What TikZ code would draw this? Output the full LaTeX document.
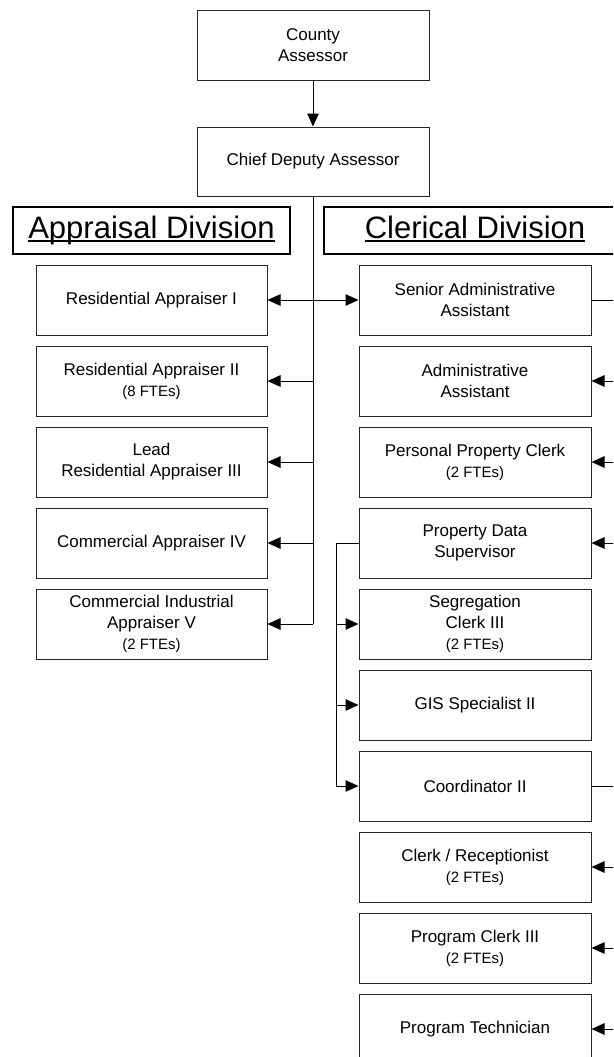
\documentclass[tikz,border=0pt]{standalone}
\usepackage{fontspec}
\setmainfont{Liberation Sans}
\usetikzlibrary{arrows.meta}
\newcommand\myul[1]{\setbox0\hbox{#1}\rlap{\rule[-3pt]{\wd0}{1.6pt}}\box0}
\newcommand\fte[1]{{\fontsize{15}{19}\selectfont #1}}
\begin{document}
\begin{tikzpicture}[x=1pt,y=-1pt,
  box/.style={draw=black!85, line width=1pt, minimum width=232pt, minimum height=70pt,
    align=center, inner sep=0pt, font=\fontsize{17}{21}\selectfont},
  hdr/.style={draw=black, line width=2pt, minimum height=47pt, inner sep=0pt,
    text height=23pt, text depth=7pt, font=\fontsize{31}{36}\selectfont},
  arr/.style={-{Triangle[length=13pt,width=11.5pt]}, line width=1pt},
  ln/.style={line width=1pt}]
\useasboundingbox (0,0) rectangle (613,1057);
\clip (0,0) rectangle (613,1057);
% top
\node[box, minimum height=69pt] (county) at (313,45.5) {County\\Assessor};
\node[box, minimum height=69pt] (chief) at (313,161.5) {Chief Deputy Assessor};
\draw[arr] (county) -- (chief);
% headers
\node[hdr, minimum width=277pt] (apphdr) at (151.5,230.5) {\myul{Appraisal Division}};
\node[hdr, minimum width=302pt] (clerhdr) at (475,230.5) {\myul{Clerical Division}};
% left column
\node[box, minimum width=231pt] (res1) at (151.5,300) {Residential Appraiser I};
\node[box, minimum width=231pt] (res2) at (151.5,381) {Residential Appraiser II\\\fte{(8 FTEs)}};
\node[box, minimum width=231pt] (lead) at (151.5,462) {Lead\\Residential Appraiser III};
\node[box, minimum width=231pt] (com4) at (151.5,543) {Commercial Appraiser IV};
\node[box, minimum width=231pt] (com5) at (151.5,624) {Commercial Industrial\\Appraiser V\\\fte{(2 FTEs)}};
% right column
\node[box] (senior) at (475,300) {Senior Administrative\\Assistant};
\node[box] (admin) at (475,381) {Administrative\\Assistant};
\node[box] (ppc) at (475,462) {Personal Property Clerk\\\fte{(2 FTEs)}};
\node[box] (pds) at (475,543) {Property Data\\Supervisor};
\node[box] (seg) at (475,624) {Segregation\\Clerk III\\\fte{(2 FTEs)}};
\node[box] (gis) at (475,705) {GIS Specialist II};
\node[box] (coord) at (475,786) {Coordinator II};
\node[box] (clerk) at (475,867) {Clerk / Receptionist\\\fte{(2 FTEs)}};
\node[box] (pclerk) at (475,948) {Program Clerk III\\\fte{(2 FTEs)}};
\node[box] (ptech) at (475,1029) {Program Technician};
% chief deputy trunk
\coordinate (t1) at (313,300);
\coordinate (t2) at (313,381);
\coordinate (t3) at (313,462);
\coordinate (t4) at (313,543);
\coordinate (t5) at (313,624);
\draw[ln] (chief.south) -- (t5);
\draw[arr] (t1) -- (res1.east);
\draw[arr] (t1) -- (senior.west);
\draw[arr] (t2) -- (res2.east);
\draw[arr] (t3) -- (lead.east);
\draw[arr] (t4) -- (com4.east);
\draw[arr] (t5) -- (com5.east);
% senior admin branch (off the right edge)
\coordinate (s0) at (625,300);
\coordinate (s1) at (625,381);
\coordinate (s2) at (625,462);
\coordinate (s3) at (625,543);
\draw[ln] (senior.east) -- (s0) -- (s3);
\draw[arr] (s1) -- (admin.east);
\draw[arr] (s2) -- (ppc.east);
\draw[arr] (s3) -- (pds.east);
% property data supervisor branch
\coordinate (p0) at (336,543);
\coordinate (p1) at (336,624);
\coordinate (p2) at (336,705);
\coordinate (p3) at (336,786);
\draw[ln] (pds.west) -- (p0) -- (p3);
\draw[arr] (p1) -- (seg.west);
\draw[arr] (p2) -- (gis.west);
\draw[arr] (p3) -- (coord.west);
% coordinator branch (off the right edge)
\coordinate (c0) at (625,786);
\coordinate (c1) at (625,867);
\coordinate (c2) at (625,948);
\coordinate (c3) at (625,1029);
\draw[ln] (coord.east) -- (c0) -- (c3);
\draw[arr] (c1) -- (clerk.east);
\draw[arr] (c2) -- (pclerk.east);
\draw[arr] (c3) -- (ptech.east);
\end{tikzpicture}
\end{document}
